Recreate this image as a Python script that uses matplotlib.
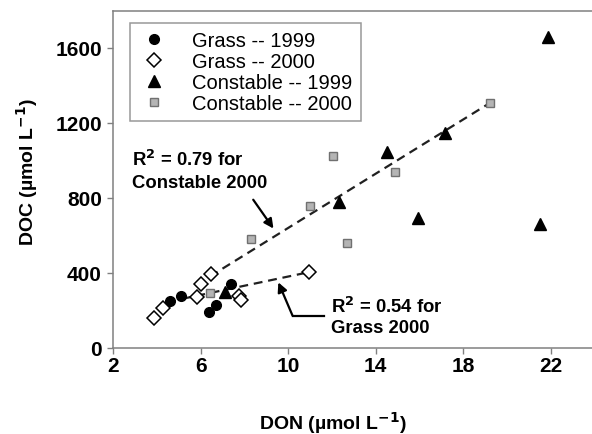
import numpy as np
import matplotlib
matplotlib.use("Agg")
import matplotlib.pyplot as plt

plt.rcParams['font.family'] = ['Liberation Sans', 'DejaVu Sans']

# Grass -- 1999
grass99_x = [4.60, 5.09, 6.40, 6.70, 7.37]
grass99_y = [252, 279, 190, 229, 341]
# Grass -- 2000
grass00_x = [3.87, 4.30, 5.85, 6.02, 6.47, 7.75, 7.83, 10.97]
grass00_y = [158, 212, 270, 341, 395, 280, 258, 404]
# Constable -- 1999
const99_x = [7.11, 12.33, 14.49, 15.94, 17.16, 21.50, 21.88]
const99_y = [297, 780, 1047, 693, 1147, 664, 1657]
# Constable -- 2000
const00_x = [6.43, 8.30, 11.00, 12.06, 12.70, 14.88, 19.21]
const00_y = [293, 581, 756, 1025, 560, 941, 1307]

# regression line end points
fit_const_x = [6.43, 19.21]
fit_const_y = [382, 1307]
fit_grass_x = [5.15, 10.97]
fit_grass_y = [262, 405]

fig = plt.figure(figsize=(5.92, 4.35), dpi=100)
ax = fig.add_axes([113/592, 1 - 349/435, 479/592, 337/435])

ax.plot(fit_const_x, fit_const_y, color='#202020', lw=1.6, ls=(0, (4, 2.6)), zorder=2)
ax.plot(fit_grass_x, fit_grass_y, color='#202020', lw=1.6, ls=(0, (4, 2.6)), zorder=2)

ax.plot(grass99_x, grass99_y, 'o', ms=7, color='black', label='Grass -- 1999', zorder=3)
ax.plot(grass00_x, grass00_y, 'D', ms=7.5, mfc='white', mec='black', mew=1.1,
        label='Grass -- 2000', zorder=3)
ax.plot(const99_x, const99_y, '^', ms=9, color='black', label='Constable -- 1999', zorder=3)
ax.plot(const00_x, const00_y, 's', ms=6, mfc='#b4b4b4', mec='#707070', mew=1,
        label='Constable -- 2000', zorder=3)

ax.set_xlim(2, 2 + 479/21.9)
ax.set_ylim(0, 337/0.1875)
ax.set_xticks([2, 6, 10, 14, 18, 22])
ax.set_yticks([0, 400, 800, 1200, 1600])
ax.tick_params(direction='out', length=4, width=1, color='#808080', labelsize=15)
ax.tick_params(axis='x', pad=2)
ax.tick_params(axis='y', pad=4)
for lab in ax.get_xticklabels() + ax.get_yticklabels():
    lab.set_fontweight('bold')
for s in ['left', 'bottom', 'top']:
    ax.spines[s].set_color('#808080')
    ax.spines[s].set_linewidth(1.1)
ax.spines['right'].set_visible(False)

ax.set_xlabel('DON (µmol L$^{\\mathbf{-1}}$)', fontsize=14, fontweight='bold')
ax.set_ylabel('DOC (µmol L$^{\\mathbf{-1}}$)', fontsize=14, fontweight='bold')
ax.xaxis.set_label_coords(0.459, -0.18)
ax.yaxis.set_label_coords(-0.153, 0.525)

leg = ax.legend(loc='upper left', bbox_to_anchor=(0.0355, 0.964), fontsize=14.5,
                frameon=True, fancybox=False, edgecolor='#808080', borderpad=0.4,
                labelspacing=0.1, handletextpad=1.1, borderaxespad=0, handlelength=1.6)
leg.get_frame().set_linewidth(1.1)

ax.text(2.85, 976, 'R$^{\\mathbf{2}}$ = 0.79 for', fontsize=13.3, fontweight='bold',
        ha='left', va='baseline')
ax.text(2.85, 859, 'Constable 2000', fontsize=13.3, fontweight='bold',
        ha='left', va='baseline')
ax.annotate('', xy=(9.40, 625), xytext=(8.33, 803),
            arrowprops=dict(arrowstyle='-|>', color='black', lw=1.6, mutation_scale=14))

ax.text(11.94, 192, 'R$^{\\mathbf{2}}$ = 0.54 for', fontsize=13.3, fontweight='bold',
        ha='left', va='baseline')
ax.text(11.94, 87, 'Grass 2000', fontsize=13.3, fontweight='bold',
        ha='left', va='baseline')
ax.plot([11.63, 10.20], [172, 172], color='black', lw=1.6)
ax.annotate('', xy=(9.55, 350), xytext=(10.20, 172),
            arrowprops=dict(arrowstyle='-|>', color='black', lw=1.6, mutation_scale=14,
                            shrinkA=0, shrinkB=0))

fig.savefig('out.png', dpi=100)
